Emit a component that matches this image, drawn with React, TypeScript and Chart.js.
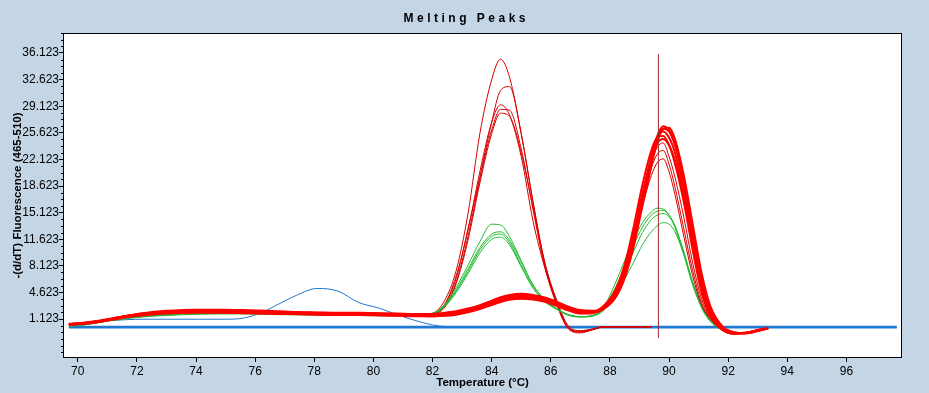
import React, { useEffect, useRef } from 'react';
import { Chart, registerables } from 'chart.js';

Chart.register(...registerables);

// Shared temperature grid (°C)
const TEMPS = [
  69.7, 70.2, 70.7, 71.2, 71.7, 72.2, 73, 74, 75, 75.6,
  76.2, 76.8, 77.4, 78.1, 78.8, 79.5, 80.2, 80.8, 81.4, 82,
  82.4, 82.8, 83.2, 83.6, 84, 84.3, 84.6, 85, 85.4, 85.8,
  86.2, 86.6, 87, 87.4, 87.8, 88.2, 88.5, 88.8, 89.1, 89.4,
  89.6, 89.8, 90, 90.2, 90.5, 90.8, 91.1, 91.4, 91.8, 92.2,
  92.6, 93, 93.35,
];

// Thick red bundle (small hump ~85 °C, main peak ~89.8 °C)
const RED_1 = [
  0.4, 0.55, 0.8, 1.15, 1.5, 1.75, 2.0, 2.1, 2.1, 2.05,
  2.0, 1.95, 1.9, 1.85, 1.8, 1.8, 1.75, 1.7, 1.65, 1.65,
  1.7, 1.9, 2.2, 2.65, 3.2, 3.6, 3.9, 4.05, 3.95, 3.6,
  3.05, 2.45, 2.0, 2.0, 2.7, 4.6, 7.5, 12.0, 17.5, 22.5,
  25.0, 25.8, 25.0, 23.0, 18.0, 11.5, 5.5, 2.0, -0.1, -0.75,
  -0.7, -0.35, -0.1,
];
const RED_2 = [
  0.35, 0.5, 0.75, 1.1, 1.5, 1.8, 2.1, 2.25, 2.25, 2.2,
  2.15, 2.05, 2.0, 1.95, 1.9, 1.9, 1.85, 1.8, 1.75, 1.75,
  1.85, 2.05, 2.4, 2.85, 3.4, 3.85, 4.15, 4.3, 4.2, 3.85,
  3.25, 2.6, 2.1, 2.0, 2.5, 4.2, 7.0, 11.5, 17.0, 22.3,
  25.2, 26.5, 26.0, 24.2, 19.0, 12.5, 6.2, 2.3, 0.0, -0.7,
  -0.75, -0.4, -0.1,
];
const RED_3 = [
  0.45, 0.6, 0.85, 1.2, 1.55, 1.8, 1.95, 2.05, 2.0, 1.95,
  1.9, 1.85, 1.8, 1.75, 1.7, 1.7, 1.65, 1.6, 1.55, 1.5,
  1.6, 1.8, 2.1, 2.55, 3.05, 3.45, 3.75, 3.9, 3.8, 3.45,
  2.9, 2.3, 1.9, 2.0, 2.9, 5.1, 8.3, 13.2, 18.8, 23.3,
  25.0, 25.2, 24.0, 21.6, 16.5, 10.2, 4.6, 1.5, -0.3, -0.8,
  -0.65, -0.3, -0.1,
];
const RED_4 = [
  0.5, 0.65, 0.9, 1.25, 1.6, 1.9, 2.2, 2.35, 2.35, 2.3,
  2.25, 2.15, 2.05, 2.0, 1.95, 1.95, 1.9, 1.85, 1.8, 1.8,
  1.95, 2.15, 2.5, 2.95, 3.55, 4.0, 4.3, 4.45, 4.3, 3.95,
  3.4, 2.75, 2.3, 2.2, 2.6, 4.2, 6.8, 11.0, 16.5, 21.8,
  24.8, 26.2, 25.8, 24.0, 19.2, 12.8, 6.6, 2.5, 0.1, -0.65,
  -0.75, -0.45, -0.1,
];
const RED_5 = [
  0.4, 0.5, 0.75, 1.05, 1.4, 1.6, 1.85, 1.95, 1.95, 1.9,
  1.85, 1.8, 1.75, 1.7, 1.65, 1.65, 1.6, 1.55, 1.5, 1.5,
  1.55, 1.7, 2.0, 2.45, 2.95, 3.35, 3.65, 3.8, 3.7, 3.4,
  2.85, 2.25, 1.85, 1.9, 2.6, 4.6, 7.6, 12.2, 17.6, 22.0,
  24.2, 24.8, 24.0, 22.0, 17.2, 11.0, 5.2, 1.8, -0.2, -0.8,
  -0.7, -0.35, -0.1,
];
const RED_6 = [
  0.45, 0.6, 0.85, 1.2, 1.55, 1.85, 2.1, 2.2, 2.2, 2.15,
  2.1, 2.0, 1.95, 1.9, 1.85, 1.85, 1.8, 1.75, 1.7, 1.7,
  1.8, 2.0, 2.3, 2.8, 3.35, 3.75, 4.1, 4.25, 4.15, 3.8,
  3.2, 2.55, 2.15, 2.1, 2.5, 4.0, 6.5, 10.6, 16.0, 21.2,
  24.4, 26.1, 26.3, 24.8, 20.0, 13.6, 7.2, 2.8, 0.2, -0.6,
  -0.75, -0.45, -0.1,
];

// Thin red curves with lower second peak
const DARK_1 = [
  0.4, 0.55, 0.8, 1.15, 1.5, 1.7, 1.95, 2.05, 2.05, 2.0,
  1.95, 1.9, 1.85, 1.8, 1.75, 1.75, 1.7, 1.65, 1.6, 1.6,
  1.65, 1.85, 2.15, 2.55, 3.1, 3.5, 3.8, 3.95, 3.85, 3.5,
  2.95, 2.35, 1.95, 2.0, 2.8, 4.8, 7.7, 12.2, 17.4, 21.8,
  23.7, 24.3, 22.5, 19.8, 14.5, 8.5, 3.8, 1.3, -0.3, -0.75,
  -0.65, -0.3, -0.1,
];
const DARK_2 = [
  0.4, 0.55, 0.8, 1.1, 1.45, 1.7, 1.9, 2.0, 2.0, 1.95,
  1.9, 1.85, 1.8, 1.75, 1.75, 1.7, 1.7, 1.65, 1.6, 1.6,
  1.65, 1.8, 2.1, 2.5, 3.05, 3.45, 3.75, 3.9, 3.8, 3.45,
  2.9, 2.3, 1.9, 1.95, 2.8, 4.7, 7.5, 11.8, 16.8, 21.0,
  22.8, 23.3, 21.5, 18.5, 13.0, 7.5, 3.3, 1.2, -0.3, -0.75,
  -0.65, -0.3, -0.1,
];
const DARK_3 = [
  0.4, 0.55, 0.8, 1.1, 1.45, 1.7, 1.9, 2.0, 2.0, 1.95,
  1.9, 1.85, 1.8, 1.75, 1.7, 1.7, 1.65, 1.6, 1.6, 1.55,
  1.6, 1.8, 2.1, 2.5, 3.0, 3.4, 3.7, 3.85, 3.75, 3.4,
  2.9, 2.3, 1.9, 1.95, 2.7, 4.5, 7.2, 11.3, 16.0, 20.0,
  21.7, 22.2, 20.5, 17.5, 12.0, 6.8, 3.0, 1.1, -0.3, -0.75,
  -0.65, -0.3, -0.1,
];

// Thin red curves with the tall first peak (~84.3 °C)
const PEAK_1 = [
  0.4, 0.55, 0.8, 1.15, 1.5, 1.75, 2.0, 2.1, 2.1, 2.05,
  2.0, 1.95, 1.9, 1.85, 1.8, 1.8, 1.75, 1.7, 1.7, 1.9,
  3.5, 7.5, 15.0, 25.5, 32.6, 35.3, 33.0, 25.5, 16.5, 8.2,
  3.2, -0.1, -0.6, -0.3, 0.1, 0.1, 0.1, 0.1, 0.1, 0.1,
  null, null, null, null, null, null, null, null, null, null,
  null, null, null,
];
const PEAK_2 = [
  0.4, 0.55, 0.8, 1.1, 1.45, 1.7, 1.95, 2.05, 2.05, 2.0,
  1.95, 1.9, 1.85, 1.8, 1.75, 1.75, 1.7, 1.65, 1.65, 1.85,
  3.0, 6.5, 13.0, 19.8, 27.0, 31.2, 31.7, 25.5, 16.5, 8.5,
  3.4, 0.0, -0.5, -0.25, 0.1, 0.1, 0.1, 0.1, 0.1, 0.1,
  null, null, null, null, null, null, null, null, null, null,
  null, null, null,
];
const PEAK_3 = [
  0.45, 0.6, 0.85, 1.2, 1.5, 1.75, 2.0, 2.1, 2.1, 2.05,
  2.0, 1.95, 1.9, 1.85, 1.8, 1.8, 1.75, 1.7, 1.65, 1.85,
  3.0, 6.8, 12.8, 20.5, 27.0, 29.3, 28.0, 22.5, 14.0, 7.8,
  3.0, -0.2, -0.7, -0.3, 0.1, 0.1, 0.1, 0.1, 0.1, 0.1,
  null, null, null, null, null, null, null, null, null, null,
  null, null, null,
];
const PEAK_4 = [
  0.4, 0.55, 0.8, 1.15, 1.5, 1.75, 2.0, 2.1, 2.1, 2.05,
  2.0, 1.95, 1.9, 1.85, 1.8, 1.8, 1.75, 1.7, 1.7, 1.8,
  2.8, 6.0, 12.0, 19.5, 26.0, 28.7, 28.6, 23.5, 15.5, 8.0,
  3.3, 0.0, -0.5, -0.2, 0.1, 0.1, 0.1, 0.1, 0.1, 0.1,
  null, null, null, null, null, null, null, null, null, null,
  null, null, null,
];
const PEAK_5 = [
  0.4, 0.55, 0.8, 1.1, 1.45, 1.7, 1.95, 2.05, 2.05, 2.0,
  1.95, 1.9, 1.85, 1.8, 1.75, 1.75, 1.7, 1.65, 1.65, 1.8,
  2.6, 5.8, 11.5, 19.0, 25.5, 28.2, 27.8, 23.0, 15.8, 8.5,
  3.6, 0.2, -0.4, -0.2, 0.1, 0.1, 0.1, 0.1, 0.1, 0.1,
  null, null, null, null, null, null, null, null, null, null,
  null, null, null,
];

// Green curves (two peaks)
const GREEN_1 = [
  0.2, 0.4, 0.7, 1.05, 1.3, 1.5, 1.7, 1.85, 1.9, 1.9,
  1.85, 1.8, 1.75, 1.75, 1.7, 1.7, 1.65, 1.65, 1.65, 1.85,
  3.0, 5.3, 8.2, 11.3, 13.6, 13.5, 12.0, 8.8, 5.6, 3.7,
  2.5, 1.7, 1.45, 1.6, 2.8, 6.0, 8.8, 11.5, 13.8, 15.2,
  15.7, 15.6, 14.8, 13.2, 9.6, 5.6, 2.6, 0.8, -0.3, -0.75,
  -0.7, -0.35, -0.1,
];
const GREEN_2 = [
  0.2, 0.35, 0.65, 1.0, 1.25, 1.45, 1.65, 1.8, 1.85, 1.85,
  1.8, 1.75, 1.7, 1.7, 1.65, 1.65, 1.6, 1.6, 1.6, 1.8,
  2.9, 5.0, 7.7, 10.5, 12.3, 12.6, 11.5, 8.6, 5.6, 3.6,
  2.4, 1.65, 1.4, 1.55, 2.6, 5.4, 8.0, 10.8, 13.2, 14.8,
  15.3, 15.4, 14.8, 13.4, 9.8, 5.8, 2.7, 0.8, -0.3, -0.75,
  -0.7, -0.35, -0.1,
];
const GREEN_3 = [
  0.25, 0.4, 0.7, 1.05, 1.3, 1.5, 1.75, 1.9, 1.95, 1.95,
  1.9, 1.85, 1.8, 1.8, 1.75, 1.75, 1.7, 1.7, 1.7, 1.85,
  2.8, 4.8, 7.4, 10.2, 12.0, 12.3, 11.2, 8.2, 5.3, 3.5,
  2.45, 1.7, 1.45, 1.55, 2.5, 5.0, 7.4, 10.0, 12.5, 14.2,
  14.8, 15.0, 14.6, 13.3, 10.0, 6.0, 2.9, 0.9, -0.3, -0.75,
  -0.7, -0.35, -0.1,
];
const GREEN_4 = [
  0.2, 0.35, 0.65, 0.95, 1.2, 1.4, 1.6, 1.75, 1.8, 1.8,
  1.75, 1.7, 1.7, 1.65, 1.6, 1.6, 1.55, 1.55, 1.55, 1.75,
  2.7, 4.6, 7.1, 9.8, 11.6, 11.9, 10.9, 8.0, 5.2, 3.4,
  2.4, 1.6, 1.4, 1.5, 2.3, 4.6, 6.4, 8.6, 10.9, 12.6,
  13.4, 13.8, 13.6, 12.6, 9.6, 5.9, 2.9, 0.9, -0.3, -0.75,
  -0.7, -0.35, -0.1,
];

// Blue curve with the hump at ~78 °C
const BLUE_PEAK = [
  0.1, 0.45, 0.8, 0.95, 1.05, 1.1, 1.1, 1.1, 1.1, 1.25,
  1.95, 3.1, 4.25, 5.15, 4.8, 3.3, 2.55, 1.7, 0.95, 0.35,
  0.15, 0.1, null, null, null, null, null, null, null, null,
  null, null, null, null, null, null, null, null, null, null,
  null, null, null, null, null, null, null, null, null, null,
  null, null, null,
];

// Flat blue baselines
const BASE_TEMPS = [69.7, 97.7];
const BASE_A = [0.1, 0.1];
const BASE_B = [0.0, 0.0];

// Vertical cursor line
const CURSOR_TEMPS = [89.64, 89.64];
const CURSOR_VALUES = [36.0, -1.4];

// Axes
const Y_TICKS = [1.123, 4.623, 8.123, 11.623, 15.123, 18.623, 22.123, 25.623, 29.123, 32.623, 36.123];
const Y_MINOR_STEP = 0.875;
const X_TICKS = [70, 72, 74, 76, 78, 80, 82, 84, 86, 88, 90, 92, 94, 96];
const X_MIN = 69.5;
const X_MAX = 97.88;
const Y_MIN = -4.0;
const Y_MAX = 38.75;

const TITLE = 'Melting Peaks';
const X_TITLE = 'Temperature (°C)';
const Y_TITLE = '-(d/dT) Fluorescence (465-510)';

const BG = '#c4d5e5';
const RED = '#ff0000';
const THIN_RED = '#d80000';
const GREEN = '#22bb33';
const BLUE = '#1f78d2';
const CURSOR = '#a02828';

const TICK_FONT = '"Liberation Sans Narrow", "Liberation Sans", Arial, sans-serif';
const BOLD_FONT = '"Liberation Sans", Arial, sans-serif';

function toPoints(xs: number[], ys: (number | null)[]) {
  const out: { x: number; y: number }[] = [];
  xs.forEach((x, i) => {
    const y = ys[i];
    if (y !== null && y !== undefined) out.push({ x, y });
  });
  return out;
}

function line(xs: number[], ys: (number | null)[], color: string, width: number) {
  return {
    data: toPoints(xs, ys),
    borderColor: color,
    backgroundColor: color,
    borderWidth: width,
    pointRadius: 0,
    fill: false,
    cubicInterpolationMode: 'monotone' as const,
  };
}

export default function App() {
  const ref = useRef<HTMLCanvasElement>(null);

  useEffect(() => {
    document.body.style.margin = '0';
    const canvas = ref.current;
    if (!canvas) return;

    const framePlugin = {
      id: 'frame',
      beforeDraw(chart: any) {
        const { ctx, width, height, chartArea: a } = chart;
        ctx.save();
        ctx.fillStyle = BG;
        ctx.fillRect(0, 0, width, height);
        ctx.fillStyle = '#ffffff';
        ctx.fillRect(a.left, a.top, a.right - a.left, a.bottom - a.top);
        ctx.restore();
      },
      afterDraw(chart: any) {
        const { ctx, chartArea: a } = chart;
        const yScale = chart.scales.y;
        ctx.save();
        // plot border
        ctx.strokeStyle = '#000000';
        ctx.lineWidth = 1;
        ctx.strokeRect(a.left + 0.5, a.top + 0.5, a.right - a.left - 1, a.bottom - a.top - 1);
        // minor y ticks
        ctx.beginPath();
        const minors: number[] = [];
        for (let v = Y_TICKS[0] - Y_MINOR_STEP; v >= Y_MIN; v -= Y_MINOR_STEP) minors.push(v);
        Y_TICKS.forEach((t) => {
          for (let k = 1; k < 4; k++) {
            const v = t + k * Y_MINOR_STEP;
            if (v <= Y_MAX) minors.push(v);
          }
        });
        minors.forEach((v) => {
          const py = Math.round(yScale.getPixelForValue(v)) + 0.5;
          ctx.moveTo(a.left - 2, py);
          ctx.lineTo(a.left, py);
        });
        ctx.stroke();
        // title
        ctx.fillStyle = '#000000';
        ctx.font = `bold 12px ${BOLD_FONT}`;
        (ctx as any).letterSpacing = '3.5px';
        ctx.textAlign = 'center';
        ctx.textBaseline = 'middle';
        ctx.fillText(TITLE, chart.width / 2 + 1.75, 19);
        ctx.restore();
      },
    };

    const datasets = [
      line(CURSOR_TEMPS, CURSOR_VALUES, CURSOR, 1),
      line(TEMPS, RED_1, RED, 2),
      line(TEMPS, RED_2, RED, 2),
      line(TEMPS, RED_3, RED, 2),
      line(TEMPS, RED_4, RED, 2),
      line(TEMPS, RED_5, RED, 2),
      line(TEMPS, RED_6, RED, 2),
      line(TEMPS, DARK_1, THIN_RED, 1),
      line(TEMPS, DARK_2, THIN_RED, 1),
      line(TEMPS, DARK_3, THIN_RED, 1),
      line(TEMPS, GREEN_1, GREEN, 1),
      line(TEMPS, GREEN_2, GREEN, 1),
      line(TEMPS, GREEN_3, GREEN, 1),
      line(TEMPS, GREEN_4, GREEN, 1),
      line(TEMPS, PEAK_1, THIN_RED, 1),
      line(TEMPS, PEAK_2, THIN_RED, 1),
      line(TEMPS, PEAK_3, THIN_RED, 1),
      line(TEMPS, PEAK_4, THIN_RED, 1),
      line(TEMPS, PEAK_5, THIN_RED, 1),
      line(TEMPS, BLUE_PEAK, BLUE, 1),
      line(BASE_TEMPS, BASE_A, BLUE, 2),
      line(BASE_TEMPS, BASE_B, BLUE, 2),
    ];

    const chart = new Chart(canvas, {
      type: 'line',
      data: { datasets },
      plugins: [framePlugin],
      options: {
        responsive: false,
        animation: false,
        devicePixelRatio: 1,
        events: [],
        layout: { padding: { left: 0, right: 27, top: 33, bottom: 0 } },
        plugins: {
          legend: { display: false },
          tooltip: { enabled: false },
          title: { display: false },
        },
        scales: {
          x: {
            type: 'linear',
            min: X_MIN,
            max: X_MAX,
            afterBuildTicks: (scale: any) => {
              scale.ticks = X_TICKS.map((v) => ({ value: v }));
            },
            afterFit: (scale: any) => {
              scale.height = 35;
            },
            grid: {
              display: true,
              drawOnChartArea: false,
              drawTicks: true,
              tickLength: 4,
              color: '#000000',
              tickColor: '#000000',
            },
            border: { display: false },
            ticks: {
              autoSkip: false,
              maxRotation: 0,
              padding: 2,
              color: '#000000',
              font: { family: TICK_FONT, size: 12 },
              callback: (v: any) => String(v),
            },
            title: {
              display: true,
              text: X_TITLE,
              color: '#000000',
              font: { family: BOLD_FONT, size: 11.5, weight: 'bold' },
              padding: { top: 0, bottom: 3 },
            },
          },
          y: {
            type: 'linear',
            min: Y_MIN,
            max: Y_MAX,
            afterBuildTicks: (scale: any) => {
              scale.ticks = Y_TICKS.map((v) => ({ value: v }));
            },
            afterFit: (scale: any) => {
              scale.width = 63;
            },
            grid: {
              display: true,
              drawOnChartArea: false,
              drawTicks: true,
              tickLength: 4,
              color: '#000000',
              tickColor: '#000000',
            },
            border: { display: false },
            ticks: {
              autoSkip: false,
              padding: 0,
              color: '#000000',
              font: { family: TICK_FONT, size: 12 },
              callback: (v: any) => Number(v).toFixed(3),
            },
            title: {
              display: true,
              text: Y_TITLE,
              color: '#000000',
              font: { family: BOLD_FONT, size: 11.5, weight: 'bold' },
              padding: { top: 11, bottom: 0 },
            },
          },
        },
      },
    } as any);

    return () => chart.destroy();
  }, []);

  return (
    <div style={{ width: 929, height: 393, background: BG }}>
      <canvas ref={ref} width={929} height={393} style={{ display: 'block' }} />
    </div>
  );
}
